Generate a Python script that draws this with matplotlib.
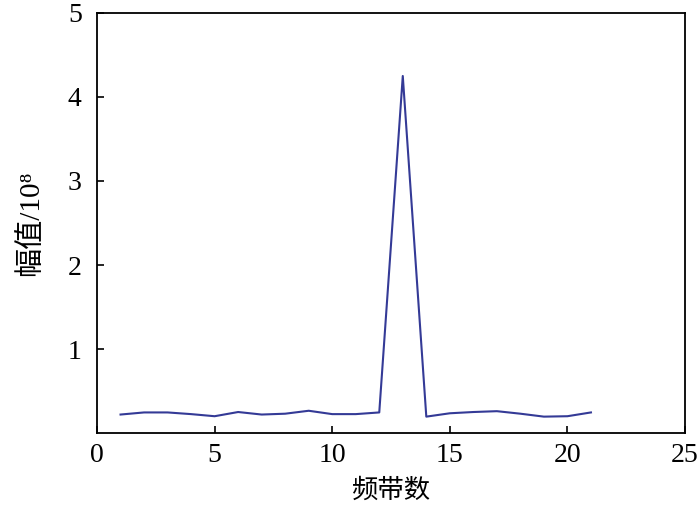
import matplotlib
matplotlib.use('Agg')
import matplotlib.pyplot as plt

plt.rcParams['font.family'] = ['Liberation Serif', 'Noto Sans CJK SC', 'DejaVu Sans']

bands = list(range(1, 22))
amp = [0.22, 0.245, 0.245, 0.225, 0.20, 0.25, 0.22, 0.23, 0.265, 0.225, 0.225,
       0.245, 4.25, 0.195, 0.235, 0.25, 0.26, 0.23, 0.195, 0.20, 0.245]
xticks = [0, 5, 10, 15, 20, 25]
yticks = [1, 2, 3, 4, 5]

fig = plt.figure(figsize=(7, 5.11), dpi=100)
ax = fig.add_axes([0.1386, 0.1526, 0.84, 0.822])
ax.plot(bands, amp, color='#343a96', lw=1.5)
ax.set_xlim(0, 25)
ax.set_ylim(0, 5)
ax.set_xticks(xticks)
ax.set_yticks(yticks)
ax.tick_params(direction='in', length=5, width=1.2, labelsize=20)
ax.tick_params(axis='x', pad=7)
ax.tick_params(axis='y', pad=11)
for s in ax.spines.values():
    s.set_linewidth(1.3)
ax.set_xlabel('频带数', fontsize=19, labelpad=8)
ax.set_ylabel('幅值/10⁸', fontsize=21, labelpad=17)
fig.savefig('out.png', dpi=100)
